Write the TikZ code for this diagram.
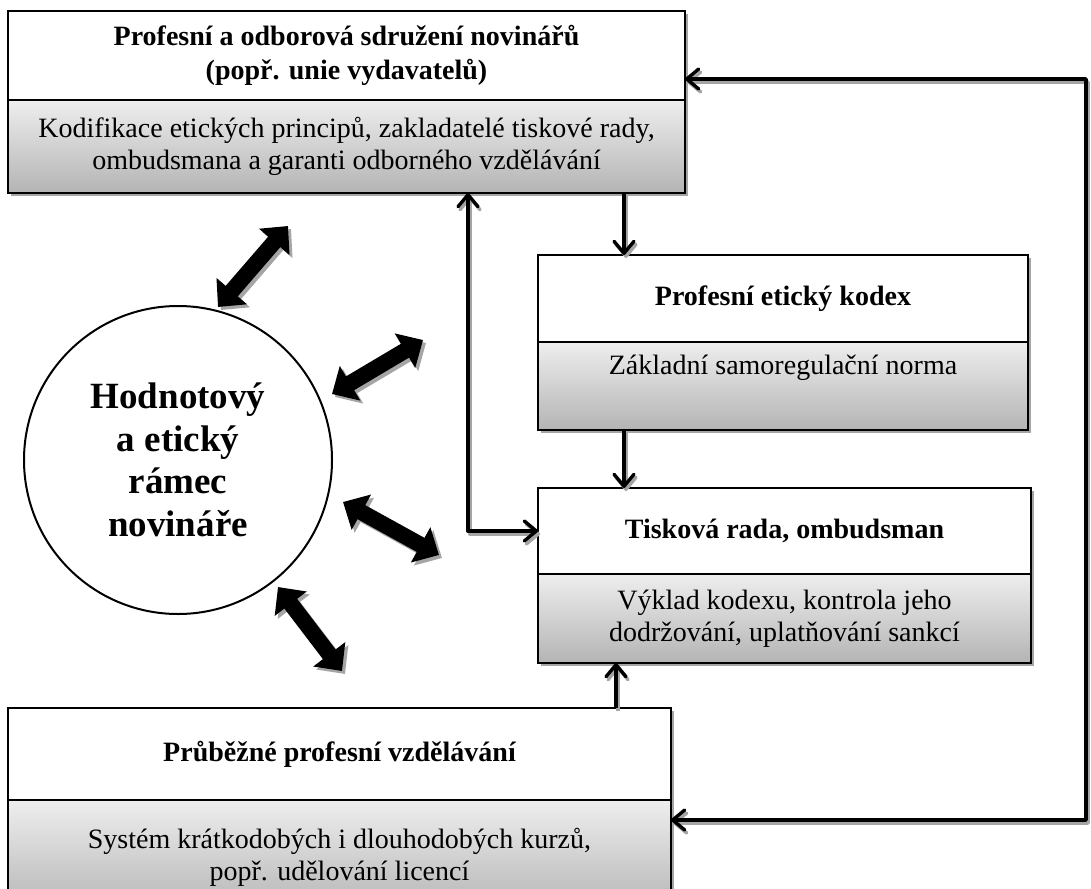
\documentclass[tikz,border=0pt]{standalone}
\usepackage{fontspec}
\setmainfont{Liberation Serif}
\usetikzlibrary{arrows.meta,shadows,calc}

\definecolor{shadetop}{RGB}{238,238,238}
\definecolor{shadebot}{RGB}{180,180,180}
\definecolor{shadowgray}{RGB}{165,165,165}

\begin{document}
\begin{tikzpicture}[x=1pt,y=-1pt,
  >={Straight Barb[length=12pt,width=20pt,round]},
  boxpart/.style={draw=black, line width=2.8pt, rectangle, anchor=north west,
    outer sep=0pt, inner sep=0pt, align=center,
    general shadow={fill=shadowgray, shadow xshift=3pt, shadow yshift=-3pt}},
  titlepart/.style={boxpart, fill=white, font=\fontsize{28}{34}\selectfont\bfseries},
  bodypart/.style={boxpart, top color=shadetop, bottom color=shadebot,
    font=\fontsize{28}{32}\selectfont},
  conn/.style={line width=3.4pt, line join=round, draw=black},
  connshadow/.style={conn, draw=shadowgray, transform canvas={shift={(2pt,-3pt)}}},
  bigarrow/.style={line width=16pt,
    {Triangle[length=21pt,width=39pt]}-{Triangle[length=21pt,width=39pt]}},
  bigshadow/.style={bigarrow, draw=shadowgray, fill=shadowgray,
    transform canvas={shift={(3pt,-3pt)}}},
  circ/.style={circle, draw=black, line width=2pt, fill=white, minimum size=308pt,
    inner sep=0pt, align=center, font=\fontsize{37}{42.5}\selectfont\bfseries}
]
\useasboundingbox (0,0) rectangle (1091,888);
\fill[white] (0,0) rectangle (1091,888);

% boxes
\node[titlepart, minimum width=677pt, minimum height=89pt] (b1t) at (8,11)
  {Profesní a odborová sdružení novinářů\\(popř. unie vydavatelů)};
\node[bodypart, minimum width=677pt, minimum height=93pt] (b1b) at (b1t.south west)
  {Kodifikace etických principů, zakladatelé tiskové rady,\\ombudsmana a garanti odborného vzdělávání};

\node[titlepart, minimum width=490pt, minimum height=87pt] (b2t) at (538,255)
  {Profesní etický kodex};
\node[bodypart, minimum width=490pt, minimum height=88pt] (b2b) at (b2t.south west)
  {Základní samoregulační norma\\\strut};

\node[titlepart, minimum width=493pt, minimum height=86pt] (b3t) at (538,488)
  {Tisková rada, ombudsman};
\node[bodypart, minimum width=493pt, minimum height=89pt] (b3b) at (b3t.south west)
  {Výklad kodexu, kontrola jeho\\dodržování, uplatňování sankcí};

\node[titlepart, minimum width=663pt, minimum height=92pt] (b4t) at (8,708)
  {Průběžné profesní vzdělávání};
\node[bodypart, minimum width=663pt, minimum height=114pt] (b4b) at (b4t.south west)
  {Systém krátkodobých i dlouhodobých kurzů,\\popř. udělování licencí};

% circle
\node[circ] (c) at (178,460) {Hodnotový\\a etický\\rámec\\novináře};

% helper coordinates
\coordinate (x1) at (624,0);
\coordinate (x2) at (468,0);
\coordinate (x3) at (616,0);
\coordinate (rt) at (1086,79);
\coordinate (rb) at (1086,820);

% connector shadows
\draw[connshadow,->] (b1b.south -| x1) -- (b2t.north -| x1);
\draw[connshadow,->] (b2b.south -| x1) -- (b3t.north -| x1);
\draw[connshadow,<->] (b1b.south -| x2) |- (b3t.west);
\draw[connshadow,->] (b4t.north -| x3) -- (b3b.south -| x3);
\draw[connshadow,<->] (b1t.east |- rt) -- (rt) -- (rb) -- (b4b.east |- rb);

% connectors
\draw[conn,->] (b1b.south -| x1) -- (b2t.north -| x1);
\draw[conn,->] (b2b.south -| x1) -- (b3t.north -| x1);
\draw[conn,<->] (b1b.south -| x2) |- (b3t.west);
\draw[conn,->] (b4t.north -| x3) -- (b3b.south -| x3);
\draw[conn,<->] (b1t.east |- rt) -- (rt) -- (rb) -- (b4b.east |- rb);

% block arrows
\coordinate (a1s) at (218,307); \coordinate (a1e) at (288,226);
\coordinate (a2s) at (332,394); \coordinate (a2e) at (423,340);
\coordinate (a3s) at (343,502); \coordinate (a3e) at (439,555);
\coordinate (a4s) at (278,587); \coordinate (a4e) at (342,671);

\foreach \s/\e in {a1s/a1e, a2s/a2e, a3s/a3e, a4s/a4e}{
  \draw[bigshadow] (\s) -- (\e);
}
\foreach \s/\e in {a1s/a1e, a2s/a2e, a3s/a3e, a4s/a4e}{
  \draw[bigarrow] (\s) -- (\e);
}
\end{tikzpicture}
\end{document}
